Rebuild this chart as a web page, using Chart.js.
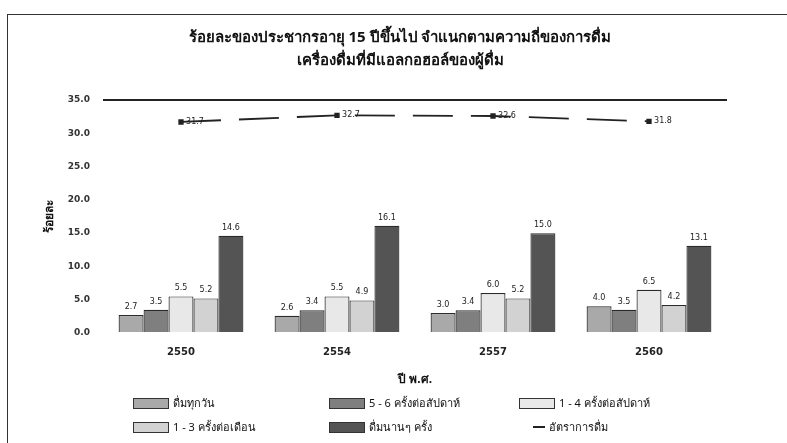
<!DOCTYPE html>
<html><head><meta charset="utf-8">
<script src="https://cdn.jsdelivr.net/npm/chart.js@4"></script>
<style>
html,body{margin:0;padding:0;background:#fff;}
#wrap{position:relative;width:787px;height:443px;overflow:hidden;font-family:"Noto Sans","DejaVu Sans",sans-serif;}
#frame{position:absolute;left:7px;top:14px;width:900px;height:600px;border-left:1.5px solid #333;border-top:1.5px solid #333;}
#title{position:absolute;left:0;width:800px;top:25px;text-align:center;font-weight:bold;font-size:15px;line-height:23px;color:#111;}
.lg{position:absolute;font-size:11px;color:#111;white-space:nowrap;display:flex;align-items:center;}
.box{display:inline-block;width:34px;height:9px;border:1px solid #333;margin-right:4px;}
.dash{display:inline-block;width:12px;height:0;border-top:2px solid #222;margin-right:4px;}
canvas{position:absolute;left:0;top:0;}
</style></head>
<body><div id="wrap">
<div id="frame"></div>
<canvas id="c" width="787" height="443"></canvas>
<div id="title"></div>
<div id="legend"></div>
</div>
<script>
const titleLines = ["ร้อยละของประชากรอายุ 15 ปีขึ้นไป จำแนกตามความถี่ของการดื่ม", "เครื่องดื่มที่มีแอลกอฮอล์ของผู้ดื่ม"];
const years = ["2550", "2554", "2557", "2560"];
const seriesNames = ["ดื่มทุกวัน", "5 - 6 ครั้งต่อสัปดาห์", "1 - 4 ครั้งต่อสัปดาห์", "1 - 3 ครั้งต่อเดือน", "ดื่มนานๆ ครั้ง"];
const lineName = "อัตราการดื่ม";
const daily = [2.7, 2.6, 3.0, 4.0];
const fiveSix = [3.5, 3.4, 3.4, 3.5];
const oneFourWeek = [5.5, 5.5, 6.0, 6.5];
const oneThreeMonth = [5.2, 4.9, 5.2, 4.2];
const occasional = [14.6, 16.1, 15.0, 13.1];
const drinkRate = [31.7, 32.7, 32.6, 31.8];
const yTicks = [0, 5, 10, 15, 20, 25, 30, 35];
const yTitle = "ร้อยละ";
const xTitle = "ปี พ.ศ.";

const barColors = ["#a9a9a9", "#7f7f7f", "#e8e8e8", "#d2d2d2", "#545454"];
const barValues = [daily, fiveSix, oneFourWeek, oneThreeMonth, occasional];

document.getElementById('title').innerHTML = titleLines.join('<br>');

const legendPos = [[133,401],[329,401],[519,401],[133,425],[329,425],[533,425]];
let lh = '';
seriesNames.forEach((n,i)=>{
  lh += `<div class="lg" style="left:${legendPos[i][0]}px;top:${legendPos[i][1]-7}px"><span class="box" style="background:${barColors[i]}"></span>${n}</div>`;
});
lh += `<div class="lg" style="left:${legendPos[5][0]}px;top:${legendPos[5][1]-7}px"><span class="dash"></span>${lineName}</div>`;
document.getElementById('legend').innerHTML = lh;

const datasets = barValues.map((v,i)=>({
  type:'bar', label:seriesNames[i], data:v,
  backgroundColor:barColors[i], borderColor:'#2a2a2a', borderWidth:1.2,
  categoryPercentage:0.8, barPercentage:1.0, order:2
}));
datasets.push({
  type:'line', label:lineName, data:drinkRate,
  borderColor:'#222', backgroundColor:'#222', borderWidth:1.8,
  borderDash:[40,18], pointStyle:'rect', pointRadius:2.5, tension:0, order:1
});

const labelPlugin = {
  id:'vals',
  afterDatasetsDraw(chart){
    const ctx = chart.ctx;
    ctx.save();
    ctx.font = '8px "DejaVu Sans", sans-serif';
    ctx.fillStyle = '#222';
    ctx.textAlign = 'center';
    ctx.textBaseline = 'bottom';
    chart.data.datasets.forEach((ds,di)=>{
      const meta = chart.getDatasetMeta(di);
      meta.data.forEach((el,i)=>{
        const v = ds.data[i].toFixed(1);
        if(ds.type==='bar') ctx.fillText(v, el.x, el.y-4);
        else ctx.fillText(v, el.x+14, el.y+4);
      });
    });
    ctx.restore();
  }
};

new Chart(document.getElementById('c'), {
  data:{labels:years, datasets},
  options:{
    responsive:false, animation:false,
    layout:{padding:{left:38, right:60, top:100, bottom:52}},
    plugins:{legend:{display:false}, title:{display:false}, tooltip:{enabled:false}},
    scales:{
      x:{
        grid:{display:false, drawTicks:false}, border:{display:false},
        ticks:{padding:13, color:'#222', font:{size:10, weight:'bold', family:'"DejaVu Sans", sans-serif'}},
        title:{display:true, text:xTitle, color:'#111', font:{size:12, weight:'bold'}, padding:{top:4}},
        afterFit(s){ s.height = 58; }
      },
      y:{
        min:0, max:35,
        afterBuildTicks(s){ s.ticks = yTicks.map(v=>({value:v})); },
        grid:{drawTicks:false, lineWidth:2, color:(c)=> c.tick && c.tick.value===35 ? '#222' : 'rgba(0,0,0,0)'},
        border:{display:false},
        ticks:{padding:13, color:'#333', font:{size:9, weight:'bold', family:'"DejaVu Sans", sans-serif'}, callback:(v)=>Number(v).toFixed(1)},
        title:{display:true, text:yTitle, color:'#111', font:{size:12, weight:'bold'}, padding:{bottom:6}},
        afterFit(s){ s.width = 65; }
      }
    }
  },
  plugins:[labelPlugin]
});
</script>
</body></html>
